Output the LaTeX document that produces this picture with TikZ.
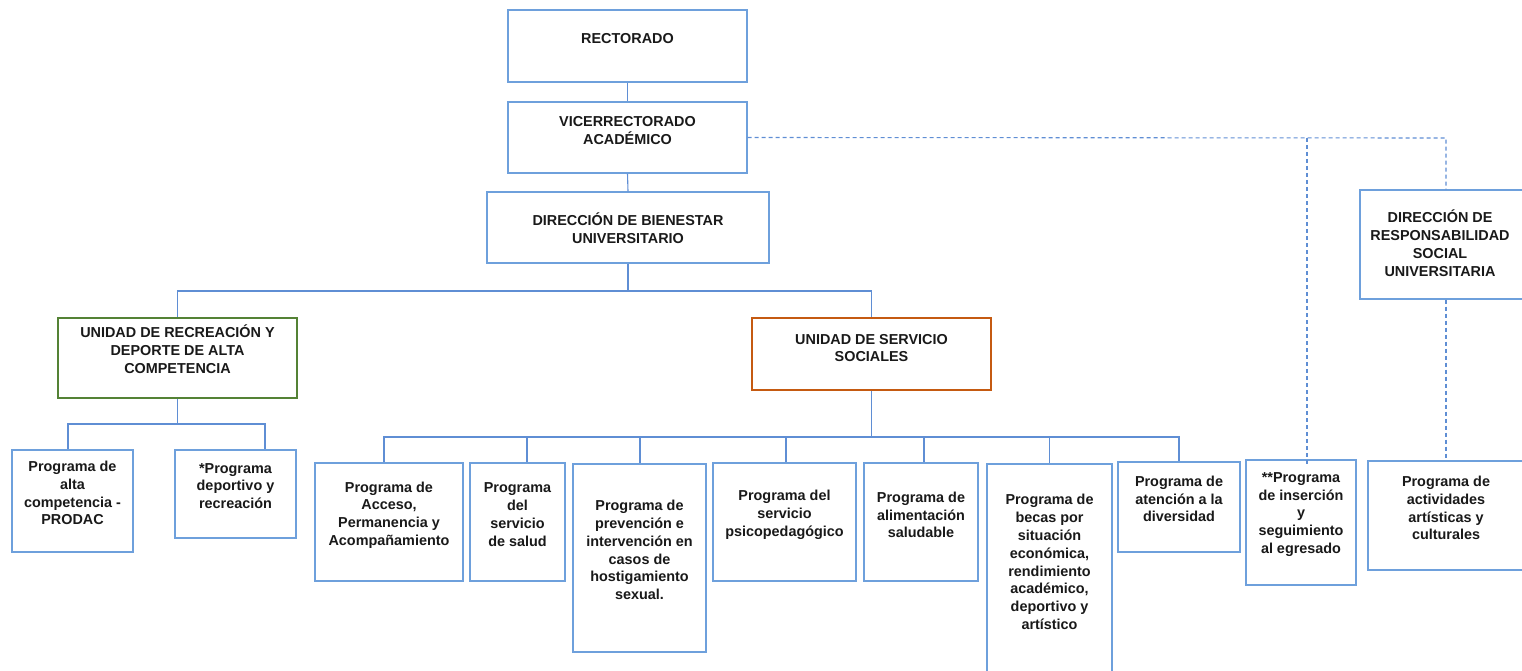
\documentclass[tikz,border=0pt]{standalone}
\usepackage{fontspec}
\setmainfont{Liberation Sans}
\definecolor{bxblue}{RGB}{110,160,220}
\definecolor{lnblue}{RGB}{95,142,212}
\definecolor{bxgreen}{RGB}{84,130,53}
\definecolor{bxorange}{RGB}{197,90,17}
\definecolor{txtc}{RGB}{25,25,25}
\begin{document}
\begin{tikzpicture}[x=1pt,y=-1pt,
  bx/.style={draw=bxblue, line width=1.2pt, inner sep=0pt, fill=white},
  gbx/.style={bx, draw=bxgreen},
  obx/.style={bx, draw=bxorange},
  tx/.style={align=center, inner sep=0pt, text=txtc, font=\fontsize{14.4}{17.8}\selectfont\bfseries},
  ln/.style={draw=lnblue, line width=1.1pt},
  dsh/.style={draw=lnblue, line width=1.1pt, dash pattern=on 4pt off 3pt}]
\path[use as bounding box] (0,0) rectangle (1522,671);
\clip (0,0) rectangle (1522,671);

% boxes
\node[bx, minimum width=239pt, minimum height=72pt] (rect) at (627.5,46) {};
\node[bx, minimum width=239pt, minimum height=71pt] (vice) at (627.5,137.5) {};
\node[bx, minimum width=282pt, minimum height=71pt] (bien) at (628,227.5) {};
\node[gbx, minimum width=239pt, minimum height=80pt] (recr) at (177.5,358) {};
\node[obx, minimum width=239pt, minimum height=72pt] (serv) at (871.5,354) {};
\node[bx, minimum width=121pt, minimum height=102pt] (alta) at (72.5,501) {};
\node[bx, minimum width=121pt, minimum height=88pt] (depo) at (235.5,494) {};
\node[bx, minimum width=148pt, minimum height=118pt] (acce) at (389,522) {};
\node[bx, minimum width=95pt, minimum height=118pt] (salu) at (517.5,522) {};
\node[bx, minimum width=133pt, minimum height=188pt] (prev) at (639.5,558) {};
\node[bx, minimum width=143pt, minimum height=118pt] (psic) at (784.5,522) {};
\node[bx, minimum width=114pt, minimum height=118pt] (alim) at (921,522) {};
\node[bx, minimum width=125pt, minimum height=216pt] (beca) at (1049.5,572) {};
\node[bx, minimum width=122pt, minimum height=90pt] (aten) at (1179,507) {};
\node[bx, minimum width=110pt, minimum height=125pt] (inse) at (1301,522.5) {};
\node[bx, minimum width=162pt, minimum height=109pt] (acti) at (1449,515.5) {};
\node[bx, minimum width=172pt, minimum height=109pt] (resp) at (1446,244.5) {};

% texts
\node[tx] (rect-t) at (627.5,39) {RECTORADO};
\node[tx] (vice-t) at (627.5,130.5) {VICERRECTORADO\\ACADÉMICO};
\node[tx] (bien-t) at (628,228) {DIRECCIÓN DE BIENESTAR\\UNIVERSITARIO};
\node[tx] (recr-t) at (177.5,349) {UNIDAD DE RECREACIÓN Y\\DEPORTE DE ALTA\\COMPETENCIA};
\node[tx] (serv-t) at (871.5,348) {UNIDAD DE SERVICIO\\SOCIALES};
\node[tx] (alta-t) at (72.5,493) {Programa de\\alta\\competencia -\\PRODAC};
\node[tx] (depo-t) at (235.5,486) {*Programa\\deportivo y\\recreación};
\node[tx] (acce-t) at (389,515) {Programa de\\Acceso,\\Permanencia y\\Acompañamiento};
\node[tx] (salu-t) at (517.5,514.5) {Programa\\del\\servicio\\de salud};
\node[tx] (prev-t) at (639.5,550) {Programa de\\prevención e\\intervención en\\casos de\\hostigamiento\\sexual.};
\node[tx] (psic-t) at (784.5,515) {Programa del\\servicio\\psicopedagógico};
\node[tx] (alim-t) at (921,515) {Programa de\\alimentación\\saludable};
\node[tx] (beca-t) at (1049.5,562) {Programa de\\becas por\\situación\\económica,\\rendimiento\\académico,\\deportivo y\\artístico};
\node[tx] (aten-t) at (1179,499) {Programa de\\atención a la\\diversidad};
\node[tx] (inse-t) at (1301,514.5) {**Programa\\de inserción\\y\\seguimiento\\al egresado};
\node[tx] (acti-t) at (1446,508) {Programa de\\actividades\\artísticas y\\culturales};
\node[tx] (resp-t) at (1440,243) {DIRECCIÓN DE\\RESPONSABILIDAD\\SOCIAL\\UNIVERSITARIA};

% solid connectors
\draw[ln] (rect.south) -- (vice.north);
\draw[ln] (vice.south) -- (bien.north);
\coordinate (b1) at (628,291);
\draw[ln] (bien.south) -- (b1);
\draw[ln] (b1) -| (recr.north);
\draw[ln] (b1) -| (serv.north);

\coordinate (r1) at (177.5,424);
\draw[ln] (recr.south) -- (r1);
\draw[ln] (r1) -| ([xshift=-4.5pt]alta.north);
\draw[ln] (r1) -| ([xshift=29.5pt]depo.north);

\coordinate (s1) at (871.5,437);
\draw[ln] (serv.south) -- (s1);
\draw[ln] (s1) -| ([xshift=-5pt]acce.north);
\draw[ln] (s1) -| ([xshift=9.5pt]salu.north);
\draw[ln] (s1) -| ([xshift=0.5pt]prev.north);
\draw[ln] (s1) -| ([xshift=1.5pt]psic.north);
\draw[ln] (s1) -| ([xshift=3pt]alim.north);
\draw[ln] (s1) -| (beca.north);
\draw[ln] (s1) -| (aten.north);

% dashed connectors
\coordinate (d1) at (1307,138);
\coordinate (d2) at (1446,138);
\draw[dsh] (vice.east) -- (d2) -- (resp.north);
\draw[dsh] (d1) -- ([xshift=6pt,yshift=-5pt]inse.north);
\draw[dsh] (resp.south) -- (resp.south |- acti.north);
\end{tikzpicture}
\end{document}
